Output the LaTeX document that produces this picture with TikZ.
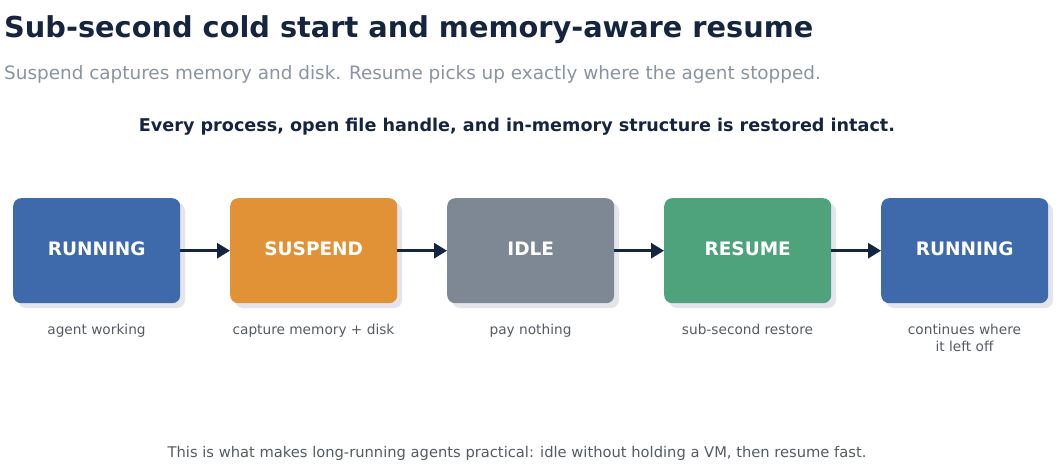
\documentclass[tikz,border=0pt]{standalone}
\usepackage{fontspec}
\setmainfont{DejaVu Sans}
\usetikzlibrary{arrows.meta}
\definecolor{navy}{HTML}{15243F}
\definecolor{subgray}{HTML}{8A93A0}
\definecolor{capgray}{HTML}{555B63}
\definecolor{cblue}{HTML}{3E6AAC}
\definecolor{corange}{HTML}{E19236}
\definecolor{cgray}{HTML}{7E8794}
\definecolor{cgreen}{HTML}{4EA37D}
\definecolor{shadowc}{HTML}{E3E5EA}
\tikzset{
  x=1pt,y=-1pt,
  stage/.style={rounded corners=8pt, minimum width=167pt, minimum height=105pt, inner sep=0pt,
    text=white, font=\fontsize{18.5}{22}\selectfont\bfseries, anchor=north west, text depth=4pt},
  shadowbox/.style={fill=shadowc, rounded corners=8pt},
  captext/.style={text=capgray, font=\fontsize{13.7}{16.5}\selectfont, align=center, anchor=north},
  flow/.style={draw=navy, line width=3pt, -{Triangle[length=13pt,width=15pt]}},
}
\begin{document}
\begin{tikzpicture}
\useasboundingbox (0,0) rectangle (1056,470);
\node[anchor=base west, inner sep=0pt, text=navy, font=\fontsize{28.8}{32}\selectfont\bfseries] (title) at (4,38) {Sub-second cold start and memory-aware resume};
\node[anchor=base west, inner sep=0pt, text=subgray, font=\fontsize{18.4}{22}\selectfont] (sub) at (4,80) {Suspend captures memory and disk. Resume picks up exactly where the agent stopped.};
\node[anchor=base, inner sep=0pt, text=navy, font=\fontsize{17.6}{20}\selectfont\bfseries] (lead) at (517,132) {Every process, open file handle, and in-memory structure is restored intact.};
\foreach \i/\x in {1/13,2/230,3/447,4/664,5/881}{
  \fill[shadowbox] (\x+5,203) rectangle ++(167,105);
}
\node[stage, fill=cblue] (s1) at (13,198) {RUNNING};
\node[stage, fill=corange] (s2) at (230,198) {SUSPEND};
\node[stage, fill=cgray] (s3) at (447,198) {IDLE};
\node[stage, fill=cgreen] (s4) at (664,198) {RESUME};
\node[stage, fill=cblue] (s5) at (881,198) {RUNNING};
\draw[flow] (s1) -- (s2);
\draw[flow] (s2) -- (s3);
\draw[flow] (s3) -- (s4);
\draw[flow] (s4) -- (s5);
\node[captext] (c1) at (96.5,321) {agent working};
\node[captext] (c2) at (313.5,321) {capture memory + disk};
\node[captext] (c3) at (530.5,321) {pay nothing};
\node[captext] (c4) at (747.5,321) {sub-second restore};
\node[captext] (c5) at (964.5,321) {continues where\\it left off};
\node[anchor=base, inner sep=0pt, text=capgray, font=\fontsize{14.7}{17}\selectfont] (foot) at (517,457) {This is what makes long-running agents practical: idle without holding a VM, then resume fast.};
\end{tikzpicture}
\end{document}
